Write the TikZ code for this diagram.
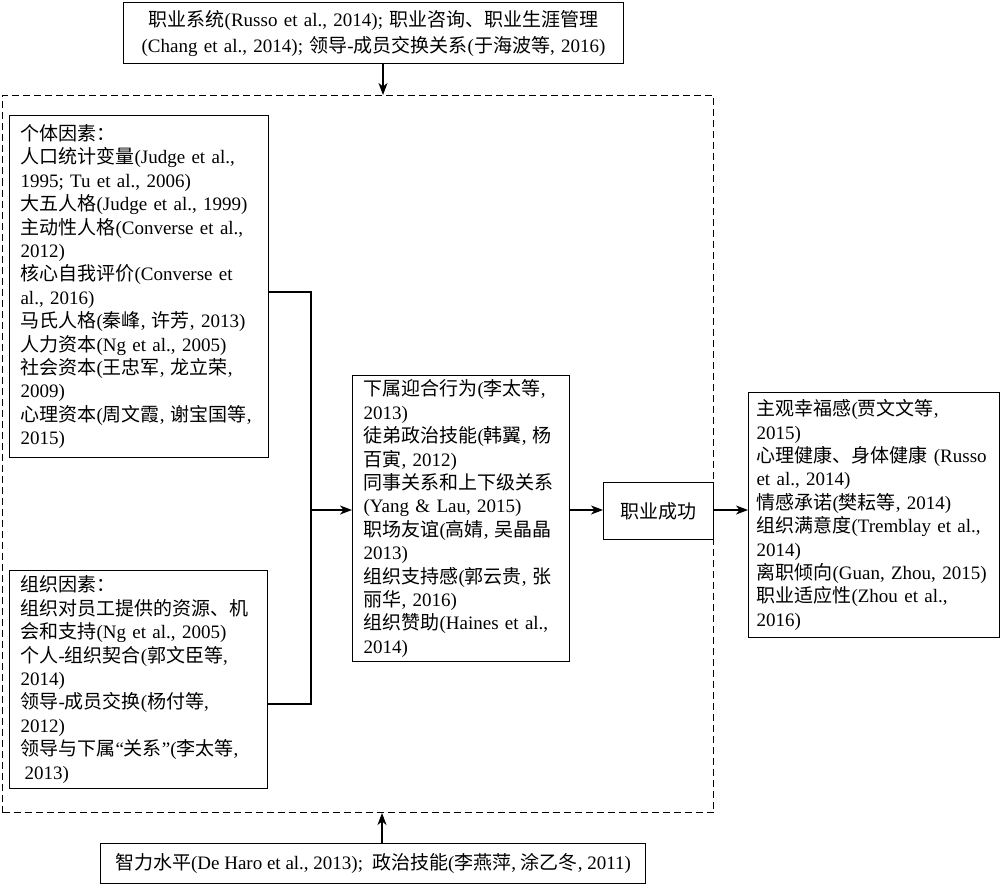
\documentclass[tikz,border=0pt]{standalone}
\usepackage{fontspec}
\setmainfont{Liberation Serif}
\newfontfamily\cjk{Noto Sans CJK SC}
\newcommand\C[1]{{\cjk #1}}
\usetikzlibrary{arrows.meta,calc}
\begin{document}
\begin{tikzpicture}[x=1pt,y=1pt,
  box/.style={draw, line width=1.1pt, inner xsep=11pt, inner ysep=3pt, align=left,
    anchor=north west, font=\fontsize{19}{23.4}\selectfont},
  arr/.style={line width=1.1pt, -{Stealth[length=12pt,width=9pt,inset=3.5pt]}},
  ln/.style={line width=1.1pt},
  framebox/.style={draw, line width=1pt, dash pattern=on 7pt off 4pt, inner sep=0pt, anchor=north west}]
\useasboundingbox (0,0) rectangle (1000,-888);

% dashed frame
\node[framebox, minimum width=711pt, minimum height=717pt] (frame) at (2,-95) {};

% top box
\node[box, align=center, text width=478pt, minimum height=61pt,
      font=\fontsize{19}{26}\selectfont] (top) at (123,-2)
 {\C{职业系统}(Russo et al., 2014); \C{职业咨询、职业生涯管理}\\
  (Chang et al., 2014); \C{领导}-\C{成员交换关系}(\C{于海波等}, 2016)};

% individual factors
\node[box, text width=237pt, minimum height=342pt] (ind) at (9,-115)
 {\C{个体因素：}\\
  \C{人口统计变量}(Judge et al.,\\
  1995; Tu et al., 2006)\\
  \C{大五人格}(Judge et al., 1999)\\
  \C{主动性人格}(Converse et al.,\\
  2012)\\
  \C{核心自我评价}(Converse et\\
  al., 2016)\\
  \C{马氏人格}(\C{秦峰}, \C{许芳}, 2013)\\
  \C{人力资本}(Ng et al., 2005)\\
  \C{社会资本}(\C{王忠军}, \C{龙立荣},\\
  2009)\\
  \C{心理资本}(\C{周文霞}, \C{谢宝国等},\\
  2015)};

% organizational factors
\node[box, text width=236pt, minimum height=218pt] (org) at (9,-570)
 {\C{组织因素：}\\
  \C{组织对员工提供的资源、机}\\
  \C{会和支持}(Ng et al., 2005)\\
  \C{个人}-\C{组织契合}(\C{郭文臣等},\\
  2014)\\
  \C{领导}-\C{成员交换}(\C{杨付等},\\
  2012)\\
  \C{领导与下属}“\C{关系}”(\C{李太等},\\
  \hspace*{4pt}2013)};

% middle box
\node[box, text width=195pt, minimum height=286pt] (mid) at (352,-375)
 {\C{下属迎合行为}(\C{李太等},\\
  2013)\\
  \C{徒弟政治技能}(\C{韩翼}, \C{杨}\\
  \C{百寅}, 2012)\\
  \C{同事关系和上下级关系}\\
  (Yang \& Lau, 2015)\\
  \C{职场友谊}(\C{高婧}, \C{吴晶晶}\\
  2013)\\
  \C{组织支持感}(\C{郭云贵}, \C{张}\\
  \C{丽华}, 2016)\\
  \C{组织赞助}(Haines et al.,\\
  2014)};

% career success
\node[draw, line width=1.1pt, anchor=north west, minimum width=110pt, minimum height=57pt,
      inner sep=0pt, font=\fontsize{19}{23.4}\selectfont] (succ) at (603,-482) {\C{职业成功}};

% outcomes
\node[box, inner xsep=8pt, text width=235pt, minimum height=245pt] (out) at (748,-392)
 {\C{主观幸福感}(\C{贾文文等},\\
  2015)\\
  \C{心理健康、身体健康}~(Russo\\
  et al., 2014)\\
  \C{情感承诺}(\C{樊耘等}, 2014)\\
  \C{组织满意度}(Tremblay et al.,\\
  2014)\\
  \C{离职倾向}(Guan, Zhou, 2015)\\
  \C{职业适应性}(Zhou et al.,\\
  2016)};

% bottom box
\node[box, align=center, minimum width=545pt, minimum height=40pt, inner xsep=6pt] (bot) at (100,-843)
 {\C{智力水平}(De Haro et al., 2013);\hspace{9pt}\C{政治技能}(\C{李燕萍}, \C{涂乙冬}, 2011)};

% coordinates for connectors
\coordinate (xa) at (383,0);
\coordinate (xb) at (382,0);
\coordinate (jt) at (311,-292);
\coordinate (jm) at (311,-510);
\coordinate (jb) at (311,-704);

% connectors
\draw[arr] (top.south -| xa) -- (frame.north -| xa);
\draw[arr] (bot.north -| xb) -- (frame.south -| xb);
\draw[ln] (ind.east |- jt) -- (jt) -- (jb) -- (org.east |- jb);
\draw[arr] (jm) -- (mid.west |- jm);
\draw[arr] (mid.east |- jm) -- (succ.west |- jm);
\draw[arr] (succ.east |- jm) -- (out.west |- jm);
\end{tikzpicture}
\end{document}
